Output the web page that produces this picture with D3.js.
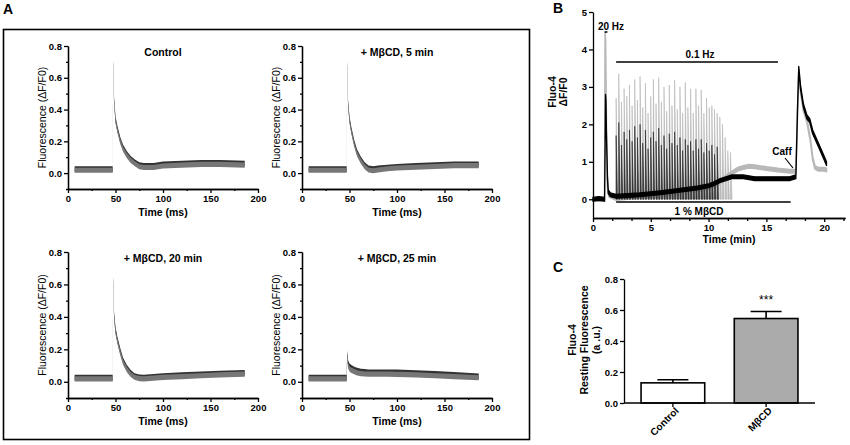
<!DOCTYPE html>
<html>
<head>
<meta charset="utf-8">
<script src="https://cdn.jsdelivr.net/npm/d3@7"></script>
<style>
  body { margin: 0; background: #fff; }
  svg { font-family: "Liberation Sans", Arial, sans-serif; }
  .axis path, .axis line { stroke: #000; stroke-width: 1.3; }
  .axis text { font-size: 9.5px; font-weight: bold; fill: #000; }
</style>
</head>
<body>
<div id="chart"></div>
<script>
// ---- panel A: single transients (time in ms) ----
var tA = [7, 20, 35, 47, 47.6, 48.5, 50, 52, 55, 58, 62, 66, 70, 75, 80, 90, 100, 120, 140, 160, 186];
var ctrlBlack = [0.025, 0.025, 0.025, 0.025, 0.69, 0.46, 0.34, 0.28, 0.21, 0.16, 0.12, 0.09, 0.07, 0.05, 0.045, 0.045, 0.055, 0.06, 0.065, 0.065, 0.06];
var ctrlGrey  = [0.018, 0.018, 0.018, 0.018, 0.69, 0.45, 0.33, 0.27, 0.2, 0.15, 0.11, 0.08, 0.06, 0.04, 0.035, 0.035, 0.045, 0.05, 0.055, 0.055, 0.05];
var m5Black   = [0.025, 0.025, 0.025, 0.025, 0.685, 0.44, 0.34, 0.27, 0.19, 0.13, 0.085, 0.05, 0.03, 0.025, 0.03, 0.035, 0.04, 0.045, 0.05, 0.055, 0.055];
var m5Grey    = [0.018, 0.018, 0.018, 0.018, 0.685, 0.43, 0.33, 0.26, 0.18, 0.12, 0.075, 0.04, 0.02, 0.015, 0.02, 0.027, 0.032, 0.037, 0.042, 0.047, 0.047];
var m20Black  = [0.025, 0.025, 0.025, 0.025, 0.63, 0.41, 0.32, 0.26, 0.19, 0.13, 0.085, 0.055, 0.035, 0.027, 0.025, 0.03, 0.035, 0.04, 0.045, 0.05, 0.055];
var m20Grey   = [0.018, 0.018, 0.018, 0.018, 0.63, 0.4, 0.31, 0.25, 0.18, 0.12, 0.075, 0.045, 0.028, 0.02, 0.018, 0.022, 0.027, 0.032, 0.037, 0.042, 0.047];
var m25Black  = [0.025, 0.025, 0.025, 0.025, 0.175, 0.115, 0.095, 0.085, 0.075, 0.068, 0.063, 0.06, 0.058, 0.058, 0.058, 0.058, 0.057, 0.053, 0.048, 0.042, 0.033];
var m25Grey   = [0.018, 0.018, 0.018, 0.018, 0.16, 0.1, 0.08, 0.07, 0.062, 0.055, 0.05, 0.048, 0.047, 0.047, 0.047, 0.047, 0.046, 0.042, 0.037, 0.032, 0.025];
var titlesA = ["Control", "+ M\u03B2CD, 5 min", "+ M\u03B2CD, 20 min", "+ M\u03B2CD, 25 min"];

// ---- panel B: slow trace (time in min) ----
var tBlack = [0, 0.5, 1.0, 1.05, 1.08, 1.12, 1.16, 1.2, 1.25, 1.32, 1.5, 2, 3, 4, 5, 6, 7, 8, 9, 10, 10.5, 11, 11.5, 12, 13, 14, 15, 16, 17, 17.55, 17.7, 17.8, 17.95, 18.2, 18.5, 18.75, 19.0, 19.5, 20.0, 20.2];
var vBlack = [0.0, 0.02, 0.0, 1.5, 2.75, 2.6, 1.8, 1.3, 0.6, 0.2, 0.12, 0.08, 0.1, 0.12, 0.15, 0.18, 0.22, 0.26, 0.3, 0.36, 0.42, 0.5, 0.55, 0.6, 0.6, 0.55, 0.55, 0.55, 0.55, 0.6, 2.5, 3.5, 3.0, 2.5, 2.2, 2.1, 1.8, 1.45, 1.1, 0.95];
var tGrey = [0, 0.5, 1.0, 1.02, 1.05, 1.09, 1.13, 1.17, 1.22, 1.28, 1.4, 2, 3, 4, 5, 6, 7, 8, 9, 10, 10.5, 11, 11.5, 12, 12.5, 13, 13.5, 14, 15, 16, 17, 17.55, 17.7, 17.8, 17.95, 18.2, 18.5, 18.8, 19.0, 19.2, 19.5, 20.0, 20.2];
var vGrey = [0.0, 0.0, 0.0, 2.0, 4.4, 4.2, 3.0, 1.6, 0.6, 0.25, 0.1, 0.02, 0.05, 0.08, 0.1, 0.12, 0.15, 0.2, 0.25, 0.3, 0.35, 0.45, 0.6, 0.7, 0.8, 0.85, 0.88, 0.87, 0.82, 0.78, 0.75, 0.75, 2.4, 3.4, 2.9, 2.4, 2.1, 1.6, 1.1, 0.85, 0.8, 0.8, 0.78];
var spikeTimes = [2.0, 2.23, 2.46, 2.69, 2.92, 3.15, 3.38, 3.61, 3.84, 4.07, 4.30, 4.53, 4.76, 4.99, 5.22, 5.45, 5.68, 5.91, 6.14, 6.37, 6.60, 6.83, 7.06, 7.29, 7.52, 7.75, 7.98, 8.21, 8.44, 8.67, 8.90, 9.13, 9.36, 9.59, 9.82, 10.05, 10.28, 10.51, 10.74, 10.97, 11.20, 11.43, 11.66, 11.89];
var spikeGrey = [2.7, 3.35, 2.6, 2.95, 2.75, 3.05, 2.5, 3.2, 2.65, 3.28, 2.45, 3.1, 2.3, 2.75, 3.2, 2.55, 3.25, 2.6, 3.0, 2.35, 3.05, 2.5, 3.18, 2.4, 3.0, 2.3, 3.12, 2.45, 2.95, 2.3, 2.95, 2.5, 2.92, 2.3, 2.7, 2.45, 2.5, 2.4, 2.3, 2.2, 2.0, 1.65, 1.3, 1.25];
var spikeBlack = [1.7, 2.05, 1.45, 1.8, 1.6, 1.85, 1.55, 1.95, 1.65, 2.0, 1.5, 1.85, 1.35, 1.65, 1.8, 1.55, 1.9, 1.45, 1.7, 1.35, 1.75, 1.5, 1.8, 1.45, 1.65, 1.3, 1.6, 1.45, 1.55, 1.3, 1.6, 1.35, 1.6, 1.25, 1.5, 1.3, 1.45, 1.2, 1.4, null, null, null, null, null];

// ---- panel C: resting fluorescence ----
var groupsC = ["Control", "M\u03B2CD"];
var meanC = [0.13, 0.545];
var semC = [0.02, 0.045];

var svg = d3.select("#chart").append("svg")
  .attr("width", 850)
  .attr("height", 445);

// panel labels
svg.append("text").attr("x", 3).attr("y", 14).style("font-size", "14px").style("font-weight", "bold").text("A");
svg.append("text").attr("x", 553).attr("y", 13).style("font-size", "14px").style("font-weight", "bold").text("B");
svg.append("text").attr("x", 553).attr("y", 272).style("font-size", "14px").style("font-weight", "bold").text("C");

// frame round panel A
svg.append("rect")
  .attr("x", 3.5).attr("y", 29.5).attr("width", 526).attr("height", 410)
  .attr("fill", "none").attr("stroke", "#000").attr("stroke-width", 1.6);

function drawA(x0, yTop, yBot, title, black, grey) {
  var x = d3.scaleLinear().domain([0, 200]).range([x0, x0 + 190]);
  var y = d3.scaleLinear().domain([-0.1, 0.8]).range([yBot, yTop]);
  var g = svg.append("g");

  var band = function(w) {
    return d3.area()
      .x(function(d) { return x(d[0]); })
      .y0(function(d) { return y(d[1] - w); })
      .y1(function(d) { return y(d[1] + w); });
  };
  g.append("path").datum(d3.zip(tA, black))
    .attr("d", band(0.018)).attr("fill", "#333");
  g.append("path").datum(d3.zip(tA, grey))
    .attr("d", band(0.016)).attr("fill", "#777");

  g.append("g").attr("class", "axis")
    .attr("transform", "translate(" + x0 + ",0)")
    .call(d3.axisLeft(y).tickValues([0, 0.2, 0.4, 0.6, 0.8]).tickFormat(d3.format(".1f")).tickSize(4).tickSizeOuter(0).tickPadding(2));
  g.append("g").attr("class", "axis")
    .attr("transform", "translate(" + x0 + ",0)")
    .call(d3.axisLeft(y).tickValues([-0.1, 0.1, 0.3, 0.5, 0.7]).tickFormat("").tickSize(2).tickSizeOuter(0));
  g.append("g").attr("class", "axis")
    .attr("transform", "translate(0," + yBot + ")")
    .call(d3.axisBottom(x).tickValues([0, 50, 100, 150, 200]).tickSize(4).tickSizeOuter(0).tickPadding(2));
  g.append("g").attr("class", "axis")
    .attr("transform", "translate(0," + yBot + ")")
    .call(d3.axisBottom(x).tickValues([25, 75, 125, 175]).tickFormat("").tickSize(2).tickSizeOuter(0));

  g.append("text")
    .attr("x", x(100)).attr("y", yTop + 10)
    .attr("text-anchor", "middle")
    .style("font-size", "10.5px").style("font-weight", "bold")
    .text(title);
  g.append("text")
    .attr("x", x(100)).attr("y", yBot + 27)
    .attr("text-anchor", "middle")
    .style("font-size", "10.5px").style("font-weight", "bold")
    .text("Time (ms)");
  g.append("text")
    .attr("transform", "translate(" + (x0 - 22) + "," + y(0.35) + ") rotate(-90)")
    .attr("text-anchor", "middle")
    .style("font-size", "10.5px")
    .text("Fluorescence (\u0394F/F0)");
}

drawA(68, 46, 189, titlesA[0], ctrlBlack, ctrlGrey);
drawA(302, 46, 189, titlesA[1], m5Black, m5Grey);
drawA(68, 252, 398, titlesA[2], m20Black, m20Grey);
drawA(302, 252, 398, titlesA[3], m25Black, m25Grey);

// ---- panel B ----
var xB = d3.scaleLinear().domain([0, 21.8]).range([593, 845]);
var yB = d3.scaleLinear().domain([-0.5, 5]).range([218, 12]);
var gB = svg.append("g");

var bandB = function(w) {
  return d3.area()
    .x(function(d) { return xB(d[0]); })
    .y0(function(d) { return yB(d[1] - w); })
    .y1(function(d) { return yB(d[1] + w); });
};

// grey spikes
gB.append("g").selectAll("path")
  .data(d3.zip(spikeTimes, spikeGrey))
  .enter().append("path")
  .attr("d", function(d) {
    return "M" + xB(d[0]) + "," + yB(0) + "L" + xB(d[0]) + "," + yB(d[1]) +
           "L" + (xB(d[0]) + 0.9) + "," + yB(d[1] * 0.45) + "L" + (xB(d[0]) + 1.6) + "," + yB(0) + "Z";
  })
  .attr("fill", "#bdbdbd").attr("stroke", "#b5b5b5").attr("stroke-width", 0.6);

gB.append("path").datum(d3.zip(tGrey, vGrey))
  .attr("d", bandB(0.045)).attr("fill", "#b8b8b8")
  .attr("stroke", "#b8b8b8").attr("stroke-width", 1.6).attr("stroke-linejoin", "round");

// black spikes
gB.append("g").selectAll("path")
  .data(d3.zip(spikeTimes, spikeBlack).filter(function(d) { return d[1] != null; }))
  .enter().append("path")
  .attr("d", function(d) {
    return "M" + xB(d[0]) + "," + yB(0) + "L" + xB(d[0]) + "," + yB(d[1]) +
           "L" + (xB(d[0]) + 0.7) + "," + yB(d[1] * 0.45) + "L" + (xB(d[0]) + 1.3) + "," + yB(0) + "Z";
  })
  .attr("fill", "#444").attr("stroke", "#222").attr("stroke-width", 0.6);

gB.append("path").datum(d3.zip(tBlack, vBlack))
  .attr("d", bandB(0.05)).attr("fill", "#000")
  .attr("stroke", "#000").attr("stroke-width", 1.3).attr("stroke-linejoin", "round");

gB.append("g").attr("class", "axis")
  .attr("transform", "translate(593,0)")
  .call(d3.axisLeft(yB).tickValues([0, 1, 2, 3, 4, 5]).tickFormat(d3.format("d")).tickSize(4).tickSizeOuter(0).tickPadding(2));
gB.append("g").attr("class", "axis")
  .attr("transform", "translate(0,218)")
  .call(d3.axisBottom(xB).tickValues([0, 5, 10, 15, 20]).tickFormat(d3.format("d")).tickSize(4).tickSizeOuter(0).tickPadding(2));
gB.append("g").attr("class", "axis")
  .attr("transform", "translate(0,218)")
  .call(d3.axisBottom(xB).tickValues([5 / 3, 10 / 3, 20 / 3, 25 / 3, 35 / 3, 40 / 3, 50 / 3, 55 / 3, 65 / 3]).tickFormat("").tickSize(3).tickSizeOuter(0));

gB.append("text").attr("x", 729).attr("y", 243).attr("text-anchor", "middle")
  .style("font-size", "10.5px").style("font-weight", "bold").text("Time (min)");
gB.append("text").attr("transform", "translate(556,92) rotate(-90)").attr("text-anchor", "middle")
  .style("font-size", "10.5px").style("font-weight", "bold").text("Fluo-4");
gB.append("text").attr("transform", "translate(567,92) rotate(-90)").attr("text-anchor", "middle")
  .style("font-size", "10.5px").style("font-weight", "bold").text("\u0394F/F0");

// stimulus annotations
gB.append("line").attr("x1", xB(1.0)).attr("x2", xB(1.25)).attr("y1", 32).attr("y2", 32)
  .attr("stroke", "#000").attr("stroke-width", 1.5);
gB.append("text").attr("x", 611).attr("y", 30).attr("text-anchor", "middle")
  .style("font-size", "10px").style("font-weight", "bold").text("20 Hz");
gB.append("line").attr("x1", xB(2.0)).attr("x2", xB(16.0)).attr("y1", 62).attr("y2", 62)
  .attr("stroke", "#000").attr("stroke-width", 1.5);
gB.append("text").attr("x", 700).attr("y", 58).attr("text-anchor", "middle")
  .style("font-size", "10px").style("font-weight", "bold").text("0.1 Hz");
gB.append("line").attr("x1", xB(2.0)).attr("x2", xB(17.1)).attr("y1", 202).attr("y2", 202)
  .attr("stroke", "#000").attr("stroke-width", 1.5);
gB.append("text").attr("x", 699).attr("y", 215).attr("text-anchor", "middle")
  .style("font-size", "10px").style("font-weight", "bold").text("1 % M\u03B2CD");
gB.append("text").attr("x", 782).attr("y", 155).attr("text-anchor", "middle")
  .style("font-size", "10px").style("font-weight", "bold").text("Caff");
gB.append("line").attr("x1", 785).attr("y1", 158).attr("x2", 793).attr("y2", 168)
  .attr("stroke", "#000").attr("stroke-width", 1.2);

// ---- panel C ----
var xC = d3.scaleBand().domain(groupsC).range([624, 815]).paddingInner(0.317).paddingOuter(0.183);
var yC = d3.scaleLinear().domain([0, 0.8]).range([403, 279]);
var gC = svg.append("g");

gC.selectAll("rect.bar")
  .data(groupsC)
  .enter().append("rect")
  .attr("class", "bar")
  .attr("x", function(d) { return xC(d); })
  .attr("width", xC.bandwidth())
  .attr("y", function(d, i) { return yC(meanC[i]); })
  .attr("height", function(d, i) { return yC(0) - yC(meanC[i]); })
  .attr("fill", function(d, i) { return i == 0 ? "#fff" : "#ababab"; })
  .attr("stroke", "#000").attr("stroke-width", 1.6);

gC.selectAll("path.err")
  .data(groupsC)
  .enter().append("path")
  .attr("class", "err")
  .attr("d", function(d, i) {
    var cx = xC(d) + xC.bandwidth() / 2;
    return "M" + cx + "," + yC(meanC[i]) + "V" + yC(meanC[i] + semC[i]) +
           "M" + (cx - 15.5) + "," + yC(meanC[i] + semC[i]) + "H" + (cx + 15.5);
  })
  .attr("fill", "none").attr("stroke", "#000").attr("stroke-width", 1.6);

gC.append("text").attr("x", xC(groupsC[1]) + xC.bandwidth() / 2).attr("y", 304)
  .attr("text-anchor", "middle").style("font-size", "12px").text("***");

gC.append("g").attr("class", "axis")
  .attr("transform", "translate(624,0)")
  .call(d3.axisLeft(yC).tickValues([0, 0.2, 0.4, 0.6, 0.8]).tickFormat(d3.format(".1f")).tickSize(4).tickSizeOuter(0).tickPadding(2));
var xAxisC = gC.append("g").attr("class", "axis")
  .attr("transform", "translate(0,403)")
  .call(d3.axisBottom(xC).tickSize(4).tickSizeOuter(0));
xAxisC.select(".domain").attr("d", "M624,0H815");
xAxisC.selectAll(".tick text")
  .attr("text-anchor", "end")
  .attr("transform", "translate(4,6) rotate(-45)")
  .attr("dy", "0.35em")
  .attr("y", 0)
  .style("font-size", "10px");

var labelC = ["Fluo-4", "Resting Fluorescence", "(a .u.)"];
gC.selectAll("text.ylab")
  .data(labelC)
  .enter().append("text")
  .attr("class", "ylab")
  .attr("transform", function(d, i) { return "translate(" + (576 + i * 12) + ",340) rotate(-90)"; })
  .attr("text-anchor", "middle")
  .style("font-size", "10.5px").style("font-weight", "bold")
  .text(function(d) { return d; });
</script>
</body>
</html>
